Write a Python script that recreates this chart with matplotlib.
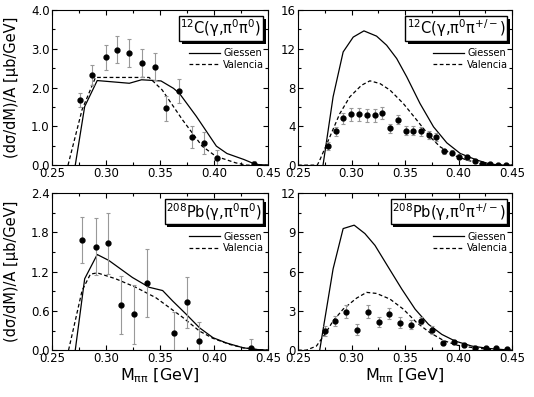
"""Two-pion photoproduction: invariant-mass spectra for C and Pb, data vs Giessen/Valencia models."""

import matplotlib

matplotlib.use("Agg")
import matplotlib.pyplot as plt
from matplotlib import patheffects
from matplotlib.ticker import MultipleLocator, FormatStrFormatter

plt.rcParams["mathtext.default"] = "regular"

# ---- 12C(g, pi0 pi0) ----
c00_x = [0.2764, 0.2876, 0.2997, 0.3106, 0.3217, 0.3335, 0.345, 0.356, 0.368, 0.3795, 0.3907, 0.4025, 0.4366]
c00_y = [1.68, 2.33, 2.78, 2.97, 2.90, 2.64, 2.54, 1.46, 1.91, 0.73, 0.57, 0.19, 0.03]
c00_e = [0.19, 0.26, 0.32, 0.35, 0.36, 0.36, 0.35, 0.32, 0.32, 0.28, 0.28, 0.20, 0.07]
c00_gi_x = [0.2717, 0.2804, 0.292, 0.3217, 0.333, 0.351, 0.3625, 0.368, 0.3836, 0.4022, 0.412, 0.4277, 0.4385, 0.45]
c00_gi_y = [0.0, 1.51, 2.18, 2.11, 2.20, 2.17, 1.98, 1.85, 1.26, 0.49, 0.30, 0.145, 0.02, 0.0]
c00_va_x = [0.265, 0.278, 0.2904, 0.340, 0.352, 0.3708, 0.389, 0.4016, 0.42, 0.43, 0.45]
c00_va_y = [0.0, 1.43, 2.26, 2.26, 1.94, 1.17, 0.49, 0.23, 0.06, 0.0, 0.0]

# ---- 12C(g, pi0 pi+/-) ----
cpm_x = [0.2779, 0.2857, 0.2925, 0.2999, 0.3073, 0.3145, 0.3219, 0.3288, 0.3362, 0.3433, 0.3505, 0.3579,
         0.365, 0.372, 0.379, 0.3864, 0.3935, 0.4007, 0.4081, 0.415, 0.4221, 0.4298, 0.437, 0.4445]
cpm_y = [1.99, 3.50, 4.81, 5.25, 5.25, 5.12, 5.12, 5.39, 3.78, 4.70, 3.57, 3.57,
         3.50, 3.12, 2.92, 1.41, 1.30, 0.86, 0.79, 0.45, 0.10, 0.07, 0.03, 0.03]
cpm_e = [0.40, 0.45, 0.60, 0.65, 0.65, 0.65, 0.65, 0.65, 0.50, 0.50, 0.45, 0.45,
         0.45, 0.40, 0.40, 0.30, 0.30, 0.25, 0.25, 0.20, 0.15, 0.10, 0.08, 0.08]
cpm_gi_x = [0.2734, 0.2828, 0.2922, 0.3016, 0.3116, 0.3234, 0.3328, 0.3422, 0.3516, 0.364, 0.3766,
            0.389, 0.4016, 0.4172, 0.4297, 0.442, 0.45]
cpm_gi_y = [0.0, 7.04, 11.67, 13.2, 13.84, 13.3, 12.36, 10.99, 9.1, 6.35, 3.95, 2.3, 1.2, 0.52, 0.1, 0.0, 0.0]
cpm_va_x = [0.25, 0.268, 0.2703, 0.2797, 0.289, 0.2984, 0.3094, 0.3172, 0.3266, 0.336, 0.3484, 0.361,
            0.3734, 0.3828, 0.3953, 0.4078, 0.4203, 0.4328, 0.45]
cpm_va_y = [0.0, 0.0, 0.5, 2.9, 5.3, 7.04, 8.24, 8.69, 8.41, 7.73, 6.35, 4.64, 2.92, 1.89, 1.03, 0.52,
            0.17, 0.0, 0.0]

# ---- 208Pb(g, pi0 pi0) ----
p00_x = [0.2782, 0.2906, 0.3024, 0.3139, 0.3263, 0.338, 0.363, 0.3747, 0.386, 0.434]
p00_y = [1.68, 1.58, 1.63, 0.69, 0.55, 1.03, 0.26, 0.73, 0.14, 0.035]
p00_e = [0.35, 0.43, 0.47, 0.44, 0.45, 0.52, 0.33, 0.39, 0.29, 0.13]
p00_gi_x = [0.2717, 0.2804, 0.292, 0.3027, 0.3245, 0.34, 0.3525, 0.3618, 0.3742, 0.3867, 0.3991,
            0.4115, 0.427, 0.4395, 0.45]
p00_gi_y = [0.0, 1.09, 1.46, 1.37, 1.11, 0.96, 0.91, 0.75, 0.55, 0.34, 0.19, 0.11, 0.036, 0.01, 0.0]
p00_va_x = [0.2655, 0.2717, 0.278, 0.2857, 0.292, 0.309, 0.3276, 0.3463, 0.3587, 0.3711, 0.3867,
            0.3991, 0.4146, 0.427, 0.4395, 0.45]
p00_va_y = [0.0, 0.45, 0.91, 1.16, 1.18, 1.09, 0.96, 0.80, 0.65, 0.50, 0.29, 0.18, 0.087, 0.036, 0.01, 0.0]

# ---- 208Pb(g, pi0 pi+/-) ----
ppm_x = [0.275, 0.285, 0.2953, 0.3053, 0.3153, 0.3253, 0.3353, 0.3453, 0.3553, 0.3653, 0.3753, 0.3853,
         0.3953, 0.4053, 0.4153, 0.4253, 0.4353, 0.4453]
ppm_y = [1.46, 2.21, 2.92, 1.56, 2.95, 2.13, 2.79, 2.10, 1.95, 2.26, 1.51, 0.51,
         0.64, 0.36, 0.18, 0.13, 0.13, 0.05]
ppm_e = [0.40, 0.40, 0.50, 0.40, 0.50, 0.40, 0.40, 0.40, 0.35, 0.30, 0.30, 0.15,
         0.15, 0.12, 0.10, 0.08, 0.08, 0.05]
ppm_gi_x = [0.2703, 0.2828, 0.2922, 0.3025, 0.3125, 0.3219, 0.3344, 0.3469, 0.3594, 0.3719, 0.3844,
            0.3969, 0.4125, 0.4281, 0.4438, 0.45]
ppm_gi_y = [0.0, 6.2, 9.28, 9.54, 8.9, 8.0, 6.33, 4.67, 3.13, 1.97, 1.2, 0.69, 0.31, 0.13, 0.03, 0.0]
ppm_va_x = [0.25, 0.2578, 0.2672, 0.275, 0.2828, 0.2922, 0.3047, 0.3141, 0.3234, 0.3359, 0.3484, 0.3609,
            0.3734, 0.3859, 0.3984, 0.4141, 0.4297, 0.45]
ppm_va_y = [0.0, 0.0, 0.31, 1.2, 2.23, 3.13, 3.97, 4.41, 4.33, 3.9, 3.13, 2.1, 1.33, 0.74, 0.38,
            0.18, 0.05, 0.0]

panels = [
    dict(rect=[0.097, 0.584, 0.405, 0.391], title=r"$^{12}$C(γ,π$^{0}$π$^{0}$)",
         data=(c00_x, c00_y, c00_e), gi=(c00_gi_x, c00_gi_y), va=(c00_va_x, c00_va_y),
         ylim=4.0, major=1.0, fmt="%.1f", ylabel=True, xlabel=False),
    dict(rect=[0.558, 0.584, 0.401, 0.391], title=r"$^{12}$C(γ,π$^{0}$π$^{+/-}$)",
         data=(cpm_x, cpm_y, cpm_e), gi=(cpm_gi_x, cpm_gi_y), va=(cpm_va_x, cpm_va_y),
         ylim=16, major=4, fmt="%d", ylabel=False, xlabel=False),
    dict(rect=[0.097, 0.118, 0.405, 0.396], title=r"$^{208}$Pb(γ,π$^{0}$π$^{0}$)",
         data=(p00_x, p00_y, p00_e), gi=(p00_gi_x, p00_gi_y), va=(p00_va_x, p00_va_y),
         ylim=2.4, major=0.6, fmt="%.1f", ylabel=True, xlabel=True),
    dict(rect=[0.558, 0.118, 0.401, 0.396], title=r"$^{208}$Pb(γ,π$^{0}$π$^{+/-}$)",
         data=(ppm_x, ppm_y, ppm_e), gi=(ppm_gi_x, ppm_gi_y), va=(ppm_va_x, ppm_va_y),
         ylim=12, major=3, fmt="%d", ylabel=False, xlabel=True),
]

fig = plt.figure(figsize=(5.34, 3.97), dpi=100)

for p in panels:
    ax = fig.add_axes(p["rect"])
    x, y, e = p["data"]
    ax.plot(*p["gi"], color="black", lw=0.9, label="Giessen")
    ax.plot(*p["va"], color="black", lw=0.9, ls=(0, (3, 2)), label="Valencia")
    ax.errorbar(x, y, yerr=e, fmt="o", color="black", ms=3.5, ecolor="#999999",
                elinewidth=0.8, capsize=1.5, capthick=0.8, zorder=3)
    ax.set_xlim(0.25, 0.45)
    ax.set_ylim(0, p["ylim"])
    ax.xaxis.set_major_locator(MultipleLocator(0.05))
    ax.xaxis.set_minor_locator(MultipleLocator(0.025))
    ax.xaxis.set_major_formatter(FormatStrFormatter("%.2f"))
    ax.yaxis.set_major_locator(MultipleLocator(p["major"]))
    ax.yaxis.set_minor_locator(MultipleLocator(p["major"] / 2))
    ax.yaxis.set_major_formatter(FormatStrFormatter(p["fmt"]))
    ax.tick_params(which="both", direction="in", top=True, right=True, labelsize=8.5, pad=1.5)
    ax.tick_params(which="major", length=3.5, width=0.8)
    ax.tick_params(which="minor", length=2, width=0.8)
    for s in ax.spines.values():
        s.set_linewidth(0.8)

    # reaction label in a box with a drop shadow
    t = ax.text(0.97, 0.95, p["title"], transform=ax.transAxes, ha="right", va="top",
                fontsize=10.5, bbox=dict(boxstyle="square,pad=0.1", fc="white", ec="black", lw=1.0))
    t.get_bbox_patch().set_path_effects([
        patheffects.SimplePatchShadow(offset=(2, -2), shadow_rgbFace="black", alpha=1.0),
        patheffects.Normal(),
    ])

    ax.legend(loc="upper right", bbox_to_anchor=(1.01, 0.79), frameon=False, fontsize=7,
              handlelength=3.2, handletextpad=0.3, labelspacing=0.15, borderaxespad=0.2)

    if p["ylabel"]:
        ax.set_ylabel(r"(dσ/dM)/A [μb/GeV]", fontsize=10.5)
        ax.yaxis.set_label_coords(-0.15, 0.5)
    if p["xlabel"]:
        ax.set_xlabel(r"M$_{ππ}$ [GeV]", fontsize=11.5, labelpad=1)

fig.savefig("out.png", dpi=100, facecolor="white")
